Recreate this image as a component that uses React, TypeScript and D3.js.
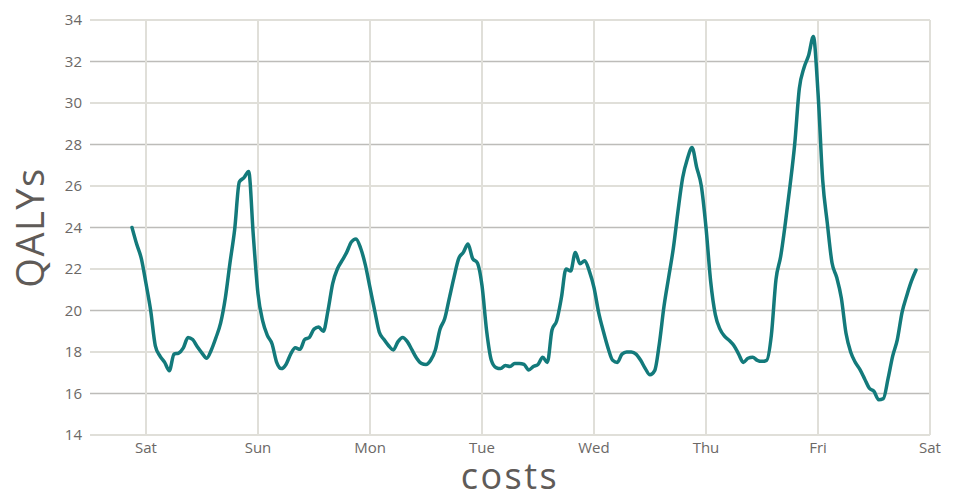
import React, { useEffect, useRef } from 'react';
import * as d3 from 'd3';

// hourly readings starting Fri 21:00
const startTime = new Date(2024, 0, 5, 21, 0);
const qalys: number[] = [
  24.0, 23.2, 22.5, 21.3, 20.0, 18.3, 17.8, 17.5, 17.1, 17.9,
  17.95, 18.2, 18.7, 18.6, 18.25, 17.95, 17.7, 18.1, 18.7, 19.4,
  20.6, 22.3, 23.9, 26.2, 26.4, 26.7, 23.6, 20.8, 19.5, 18.8,
  18.4, 17.5, 17.2, 17.4, 17.9, 18.2, 18.13, 18.6, 18.7, 19.1,
  19.2, 19.0, 20.0, 21.3, 22.0, 22.4, 22.8, 23.3, 23.45, 23.0,
  22.2, 21.1, 20.0, 18.95, 18.6, 18.3, 18.1, 18.5, 18.7, 18.5,
  18.1, 17.7, 17.45, 17.4, 17.6, 18.1, 19.1, 19.6, 20.6, 21.6,
  22.5, 22.8, 23.2, 22.5, 22.3, 21.2, 19.0, 17.6, 17.25, 17.2,
  17.35, 17.3, 17.45, 17.45, 17.4, 17.13, 17.3, 17.4, 17.75, 17.5,
  19.06, 19.5, 20.6, 22.0, 21.9, 22.8, 22.25, 22.4, 21.9, 21.1,
  19.9, 19.0, 18.2, 17.6, 17.5, 17.9, 18.0, 18.0, 17.9, 17.6,
  17.2, 16.9, 17.1, 18.4, 20.2, 21.6, 23.0, 24.8, 26.4, 27.3,
  27.85, 26.9, 26.0, 24.0, 21.4, 19.8, 19.1, 18.75, 18.55, 18.3,
  17.9, 17.5, 17.7, 17.75, 17.6, 17.55, 17.6, 18.8, 21.5, 22.6,
  24.2, 26.0, 28.0, 30.7, 31.7, 32.3, 33.2, 30.5, 26.3, 24.2,
  22.3, 21.6, 20.6, 18.9, 18.0, 17.5, 17.15, 16.7, 16.25, 16.1,
  15.7, 15.75, 16.7, 17.8, 18.6, 19.9, 20.7, 21.4, 21.95,
];
const xDomain: [Date, Date] = [new Date(2024, 0, 5, 12, 0), new Date(2024, 0, 13, 0, 0)];
const yDomain: [number, number] = [14, 34];
const yTicks = [14, 16, 18, 20, 22, 24, 26, 28, 30, 32, 34];

const App: React.FC = () => {
  const ref = useRef<SVGSVGElement | null>(null);

  useEffect(() => {
    if (!ref.current) return;
    const W = 960, H = 500;
    const margin = { top: 20, right: 30, bottom: 65, left: 90 };
    const width = W - margin.left - margin.right;
    const height = H - margin.top - margin.bottom;
    const font = '"Open Sans", sans-serif';

    const data = qalys.map((v, i) => ({ t: d3.timeHour.offset(startTime, i), v }));

    const root = d3.select(ref.current);
    root.selectAll('*').remove();
    const svg = root.append('g').attr('transform', `translate(${margin.left},${margin.top})`);

    const x = d3.scaleTime().domain(xDomain).range([0, width]);
    const y = d3.scaleLinear().domain(yDomain).range([height, 0]);
    const days = x.ticks(d3.timeDay.every(1)!);

    // horizontal grid
    svg.append('g').selectAll('line')
      .data(yTicks)
      .enter()
      .append('line')
      .attr('x1', 0).attr('x2', width)
      .attr('y1', d => y(d)).attr('y2', d => y(d))
      .attr('stroke', d => ((d - 14) % 4 === 0 ? '#e0dfd9' : '#bdbcb9'))
      .attr('stroke-width', d => ((d - 14) % 4 === 0 ? 2 : 1.3));

    // vertical grid
    svg.append('g').selectAll('line')
      .data(days)
      .enter()
      .append('line')
      .attr('x1', d => x(d)).attr('x2', d => x(d))
      .attr('y1', 0).attr('y2', height)
      .attr('stroke', '#e0dfd9')
      .attr('stroke-width', 2);

    // y labels
    svg.append('g').selectAll('text')
      .data(yTicks)
      .enter()
      .append('text')
      .attr('x', -8).attr('y', d => y(d))
      .attr('dy', '0.35em')
      .attr('text-anchor', 'end')
      .attr('font-family', font)
      .attr('font-size', 15)
      .attr('fill', '#6b6866')
      .text(d => String(d));

    // x labels
    const fmt = d3.timeFormat('%a');
    svg.append('g').selectAll('text')
      .data(days)
      .enter()
      .append('text')
      .attr('x', d => x(d)).attr('y', height + 18)
      .attr('text-anchor', 'middle')
      .attr('font-family', font)
      .attr('font-size', 15)
      .attr('fill', '#6b6866')
      .text(d => fmt(d));

    const line = d3.line<{ t: Date; v: number }>()
      .x(d => x(d.t))
      .y(d => y(d.v))
      .curve(d3.curveMonotoneX);

    svg.append('path')
      .datum(data)
      .attr('d', line)
      .attr('fill', 'none')
      .attr('stroke', '#137a7b')
      .attr('stroke-width', 3.5)
      .attr('stroke-linejoin', 'round')
      .attr('stroke-linecap', 'round');

    root.append('text')
      .attr('x', margin.left + width / 2).attr('y', 489)
      .attr('text-anchor', 'middle')
      .attr('font-family', font)
      .attr('font-size', 36)
      .attr('letter-spacing', 2.5)
      .attr('fill', '#5f5b58')
      .text('costs');

    root.append('text')
      .attr('transform', `translate(44,${margin.top + height / 2}) rotate(-90)`)
      .attr('text-anchor', 'middle')
      .attr('font-family', font)
      .attr('font-size', 38)
      .attr('letter-spacing', 1.5)
      .attr('fill', '#5f5b58')
      .text('QALYs');
  }, []);

  return (
    <svg ref={ref} width={960} height={500}
      style={{ position: 'absolute', left: 0, top: 0, background: '#fff' }} />
  );
};

export default App;
